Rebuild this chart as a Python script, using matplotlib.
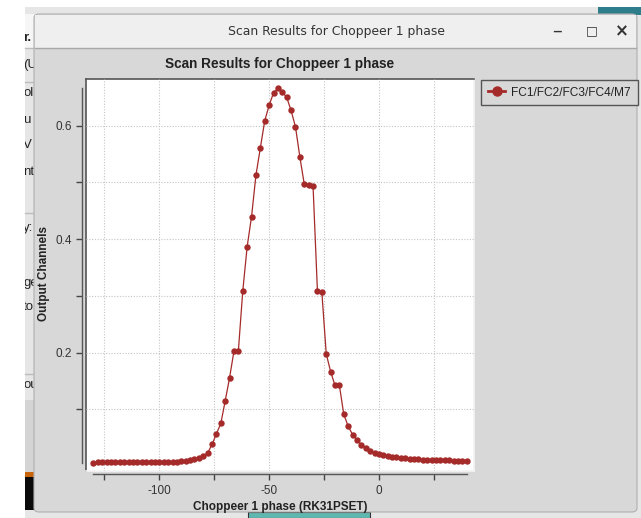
import matplotlib
matplotlib.use('Agg')
import matplotlib.pyplot as plt
from matplotlib.patches import Rectangle, FancyBboxPatch
from matplotlib.lines import Line2D
from matplotlib.ticker import FixedLocator, FuncFormatter

plt.rcParams['font.family'] = ['Liberation Sans', 'DejaVu Sans']

# scan data: chopper phase setpoint vs output channel signal
phase = [-130, -128, -126, -124, -122, -120, -118, -116, -114, -112,
         -110, -108, -106, -104, -102, -100, -98, -96, -94, -92,
         -90, -88, -86, -84, -82, -80, -78, -76, -74, -72,
         -70, -68, -66, -64, -62, -60, -58, -56, -54, -52,
         -50, -48, -46, -44, -42, -40, -38, -36, -34, -32,
         -30, -28, -26, -24, -22, -20, -18, -16, -14, -12,
         -10, -8, -6, -4, -2, 0, 2, 4, 6, 8,
         10, 12, 14, 16, 18, 20, 22, 24, 26, 28,
         30, 32, 34, 36, 38, 40]
signal = [0.0056, 0.0062, 0.0065, 0.0067, 0.0068, 0.0069, 0.0070, 0.0070, 0.0071, 0.0071,
          0.0072, 0.0072, 0.0072, 0.0073, 0.0073, 0.0074, 0.0074, 0.0075, 0.0076, 0.0078,
          0.0082, 0.0090, 0.0100, 0.0115, 0.0140, 0.0175, 0.0230, 0.0380, 0.0570, 0.0750,
          0.1150, 0.1560, 0.2030, 0.2035, 0.3090, 0.3870, 0.4400, 0.5130, 0.5610, 0.6090,
          0.6360, 0.6580, 0.6660, 0.6600, 0.6500, 0.6270, 0.5980, 0.5450, 0.4970, 0.4950,
          0.4940, 0.3080, 0.3070, 0.1980, 0.1665, 0.1420, 0.1420, 0.0910, 0.0700, 0.0555,
          0.0465, 0.0375, 0.0320, 0.0260, 0.0230, 0.0215, 0.0200, 0.0185, 0.0167, 0.0155,
          0.0144, 0.0138, 0.0127, 0.0120, 0.0115, 0.0112, 0.0109, 0.0105, 0.0103, 0.0101,
          0.0099, 0.0098, 0.0097, 0.0096, 0.0096, 0.0096]

x_ticks = [-125, -100, -75, -50, -25, 0, 25]
x_labeled = [-100, -50, 0]
y_ticks = [0.1, 0.2, 0.3, 0.4, 0.5, 0.6]
y_labeled = [0.2, 0.4, 0.6]

series_name = 'FC1/FC2/FC3/FC4/M7'
title = 'Scan Results for Choppeer 1 phase'

W, H = 641, 518
fig = plt.figure(figsize=(W / 100, H / 100), dpi=100)
fig.patch.set_facecolor('white')


def fx(px):
    return px / W


def fy(py):
    return 1 - py / H


def rect(x0, y0, x1, y1, color, z, **kw):
    r = Rectangle((fx(x0), fy(y1)), fx(x1) - fx(x0), fy(y0) - fy(y1),
                  transform=fig.transFigure, facecolor=color, zorder=z, **kw)
    fig.add_artist(r)
    return r


def hline(x0, x1, y, color, z, lw=1):
    fig.add_artist(Line2D([fx(x0), fx(x1)], [fy(y), fy(y)], transform=fig.transFigure,
                          color=color, lw=lw, zorder=z))


# background desktop / other application
rect(25, 7, 641, 518, '#e6e6e6', 0.1, edgecolor='none')
rect(25, 14, 34, 48, '#f6f6f6', 0.15, edgecolor='none')
rect(598, 7, 641, 15, '#2e7d8a', 0.2, edgecolor='none')
rect(25, 400, 34, 472, '#d4d4d4', 0.2, edgecolor='none')
rect(25, 472, 34, 477, '#c8640a', 0.2, edgecolor='none')
rect(25, 477, 34, 510, '#0a0a0a', 0.2, edgecolor='none')
rect(248, 512, 370, 518, '#5fb8b0', 0.2, edgecolor='#333333', lw=0.8)
for yy in (48, 82, 213, 374):
    hline(25, 34, yy, '#bdbdbd', 0.3)

# partial menu text of the app behind the window, cut off at the window edge
strip_clip = Rectangle((fx(25), 0), fx(34) - fx(25), 1, transform=fig.transFigure)
strip_text = [('r.', 38, 'bold'), ('(U', 65, 'normal'), ('ol', 93, 'normal'),
              ('u', 120, 'normal'), ('V', 145, 'normal'), ('nt', 172, 'normal'),
              ('y:', 228, 'normal'), ('ge', 283, 'normal'), ('to', 307, 'normal'),
              ('ou', 385, 'normal')]
for s, yy, wt in strip_text:
    t = fig.text(fx(23), fy(yy), s, fontsize=9.5, fontweight=wt, color='#222222',
                 ha='left', va='center', zorder=0.4)
    t.set_clip_path(strip_clip)

# window
win = FancyBboxPatch((fx(34), fy(512)), fx(637) - fx(34), fy(14) - fy(512),
                     boxstyle='round,pad=0,rounding_size=0.008',
                     transform=fig.transFigure, facecolor='#d8d8d8',
                     edgecolor='#b0b0b0', lw=0.8, zorder=1)
fig.add_artist(win)
rect(35, 15, 636, 48, '#efefef', 1.1, edgecolor='none')
hline(35, 636, 48, '#a8a8a8', 1.2)
fig.text(fx(337), fy(31), title, fontsize=8.9, color='#333333', ha='center',
         va='center', family='DejaVu Sans', zorder=2)
fig.text(fx(557), fy(33), '_', fontsize=10, fontweight='bold', color='#333333',
         ha='center', va='bottom', zorder=2)
fig.text(fx(592), fy(31), '\u25a1', fontsize=9, fontweight='bold', color='#333333',
         ha='center', va='center', family='DejaVu Sans', zorder=2)
fig.text(fx(622), fy(31), '\u00d7', fontsize=12, fontweight='bold', color='#333333',
         ha='center', va='center', family='DejaVu Sans', zorder=2)

# plot panel
box = [fx(86), fy(471), fx(474) - fx(86), fy(79) - fy(471)]
bg = fig.add_axes(box, zorder=3)
bg.set_facecolor('white')
bg.set_xticks([])
bg.set_yticks([])
bg.spines['top'].set_color('#555555')
bg.spines['left'].set_color('#555555')
bg.spines['right'].set_color('#f4f4f4')
bg.spines['bottom'].set_color('#f4f4f4')
for sp in bg.spines.values():
    sp.set_linewidth(1.2)

ax = fig.add_axes(box, zorder=4)
ax.patch.set_alpha(0)
ax.plot(phase, signal, color='#a52a2a', lw=0.9, marker='o', markersize=4.6,
        markeredgewidth=0, clip_on=False, zorder=3)
ax.set_xlim(-133.4, 43.3)
ax.set_ylim(-0.0088, 0.6825)

ax.spines['top'].set_visible(False)
ax.spines['right'].set_visible(False)
ax.spines['left'].set_position(('outward', 3))
ax.spines['bottom'].set_position(('outward', 2.2))
ax.spines['left'].set_bounds(min(signal), max(signal))
ax.spines['bottom'].set_bounds(min(phase), max(phase))
for side in ('left', 'bottom'):
    ax.spines[side].set_color('#555555')
    ax.spines[side].set_linewidth(1.0)

ax.xaxis.set_major_locator(FixedLocator(x_ticks))
ax.yaxis.set_major_locator(FixedLocator(y_ticks))
ax.xaxis.set_major_formatter(FuncFormatter(
    lambda v, p: f'{v:.0f}' if round(v) in x_labeled else ''))
ax.yaxis.set_major_formatter(FuncFormatter(
    lambda v, p: f'{v:.1f}' if any(abs(v - t) < 1e-6 for t in y_labeled) else ''))
ax.tick_params(direction='out', length=4, width=1, color='#444444',
               labelsize=8.5, labelcolor='#333333', pad=3)
ax.tick_params(axis='x', pad=4)
ax.grid(True, ls=(0, (1, 1.5)), color='#c4c4c4', lw=0.8)
ax.set_axisbelow(True)

ax.set_xlabel('Choppeer 1 phase (RK31PSET)', fontsize=8.5, fontweight='bold',
              color='#222222', labelpad=3)
ax.set_ylabel('Output Channels', fontsize=8.5, fontweight='bold', color='#222222')
ax.yaxis.set_label_coords(-0.092, 0.505)
fig.text(fx(280), fy(64), title, fontsize=9.8, fontweight='bold', color='#222222',
         ha='center', va='center', zorder=5)

# legend
proxy = Line2D([], [], color='#a52a2a', lw=2, marker='o', markersize=7.5,
               markeredgewidth=0)
leg = fig.legend([proxy], [series_name], loc='upper left',
                 bbox_to_anchor=(fx(481), fy(80)), bbox_transform=fig.transFigure,
                 fancybox=False, edgecolor='#555555', facecolor='#d8d8d8',
                 framealpha=1, borderaxespad=0, borderpad=0.55, handlelength=1.5,
                 handletextpad=0.5, fontsize=8.6)
leg.set_zorder(5)
leg.get_frame().set_linewidth(1.0)
for t in leg.get_texts():
    t.set_color('#222222')

fig.savefig('out.png', dpi=100)
